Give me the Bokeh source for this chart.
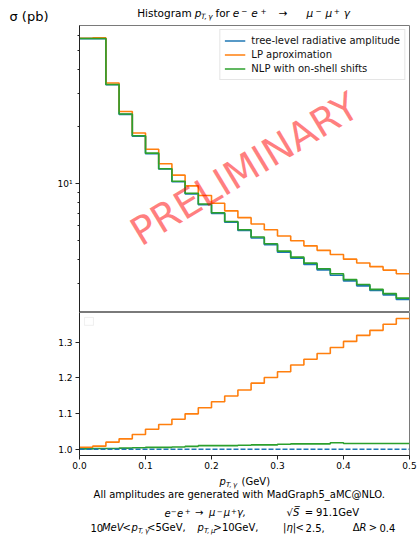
from bokeh.plotting import figure
from bokeh.layouts import column
from bokeh.models import (Range1d, FixedTicker, PrintfTickFormatter,
                          CustomJSTickFormatter, Label, BoxAnnotation)
from bokeh.core.properties import value
from bokeh.embed import file_html
from bokeh.resources import INLINE

# ---------------- data ----------------
bin_edges = [round(0.02 * i, 2) for i in range(26)]          # 25 bins of 0.02 GeV
tree_level = [58.1, 58.1, 33.2, 23.2, 17.8, 14.4, 11.95, 10.24, 8.85, 7.75,
              6.97, 6.27, 5.67, 5.18, 4.77, 4.36, 4.05, 3.76, 3.52, 3.30,
              3.08, 2.90, 2.74, 2.60, 2.46]
lp_approx = [58.4, 58.6, 33.9, 24.0, 18.5, 15.2, 12.75, 11.1, 9.75, 8.68,
             7.90, 7.20, 6.63, 6.14, 5.73, 5.31, 5.01, 4.71, 4.46, 4.24,
             4.01, 3.83, 3.66, 3.51, 3.36]
nlp_shift = [58.2, 58.2, 33.3, 23.3, 17.9, 14.5, 12.0, 10.3, 8.92, 7.83,
             7.04, 6.33, 5.73, 5.24, 4.83, 4.42, 4.11, 3.82, 3.57, 3.36,
             3.13, 2.95, 2.78, 2.64, 2.50]
ratio_tree = [1.0] * 25
ratio_lp = [1.0056, 1.0085, 1.0197, 1.029, 1.041, 1.056, 1.069, 1.084, 1.099,
            1.116, 1.133, 1.149, 1.166, 1.185, 1.201, 1.217, 1.236, 1.252,
            1.268, 1.285, 1.302, 1.319, 1.333, 1.350, 1.366]
ratio_nlp = [1.001, 1.002, 1.002, 1.003, 1.004, 1.005, 1.005, 1.006, 1.008,
             1.010, 1.010, 1.010, 1.011, 1.012, 1.012, 1.014, 1.015, 1.015,
             1.015, 1.018, 1.016, 1.016, 1.016, 1.016, 1.016]
series_labels = ["tree-level radiative amplitude", "LP aproximation",
                 "NLP with on-shell shifts"]
x_ticks = [0.0, 0.1, 0.2, 0.3, 0.4, 0.5]
ratio_ticks = [1.0, 1.1, 1.2, 1.3]
log_major = [10]
log_minor = [3, 4, 5, 6, 7, 8, 9, 20, 30, 40, 50, 60]

BLUE, ORANGE, GREEN = "#1f77b4", "#ff7f0e", "#2ca02c"
FONT = "DejaVu Sans"
W = 418
LEFT = 79
FRAME_W = 330
RIGHT = W - LEFT - FRAME_W
HEAD_H = 25
TOP_FRAME = 287
BOT_FRAME = 143
BOT_H = BOT_FRAME + 18
FOOT_TOP = HEAD_H + TOP_FRAME + BOT_H
FOOT_H = 535 - FOOT_TOP
FRAME_COLOR = "#7a7a7a"
AXIS_COLOR = "#222222"


def stepped(vals):
    return list(vals) + [vals[-1]]


def text_fig(top_px, height):
    """A bare figure whose frame maps 1:1 onto page pixels."""
    f = figure(width=W, height=height, x_range=Range1d(LEFT, LEFT + FRAME_W),
               y_range=Range1d(top_px + height, top_px),
               x_axis_location=None, y_axis_location=None,
               toolbar_location=None, output_backend="svg",
               min_border_left=LEFT, min_border_right=RIGHT,
               min_border_top=0, min_border_bottom=0,
               outline_line_color=None)
    f.xgrid.visible = False
    f.ygrid.visible = False
    return f


def put(fig, pieces):
    """pieces: (text, left x, baseline y, size px, style[, align])."""
    for piece in pieces:
        txt, px, py, size, style = piece[:5]
        align = piece[5] if len(piece) > 5 else "left"
        fig.text(x=[px], y=[py - 0.35 * size], text=[txt],
                 text_font=value(FONT), text_font_size=value(f"{size}px"),
                 text_font_style=style, text_align=align,
                 text_baseline="middle", text_color="black")


def style_axis(ax, size="9px"):
    ax.axis_line_color = AXIS_COLOR
    ax.major_tick_line_color = AXIS_COLOR
    ax.minor_tick_line_color = AXIS_COLOR
    ax.major_tick_out = 4
    ax.major_tick_in = 0
    ax.minor_tick_out = 2
    ax.minor_tick_in = 0
    ax.major_label_text_font = FONT
    ax.major_label_text_font_size = size
    ax.major_label_text_color = "black"


# ---------------- header: title + y label ----------------
header = figure(width=W, height=HEAD_H, x_range=Range1d(LEFT, LEFT + FRAME_W),
                y_range=Range1d(HEAD_H, 0), x_axis_location=None,
                toolbar_location=None, output_backend="svg",
                min_border_left=LEFT, min_border_right=RIGHT,
                min_border_top=0, min_border_bottom=0,
                outline_line_color=None)
header.xgrid.visible = False
header.ygrid.visible = False
hy = header.yaxis[0]
hy.ticker = FixedTicker(ticks=[16])
hy.formatter = CustomJSTickFormatter(code="return 'σ (pb)';")
hy.axis_line_color = None
hy.major_tick_line_color = None
hy.minor_tick_line_color = None
hy.major_tick_out = 0
hy.major_tick_in = 0
hy.major_label_standoff = 31
hy.major_label_text_font = FONT
hy.major_label_text_font_size = "13px"
hy.major_label_text_color = "black"

tb = 16.3
sup = tb - 2.8
sub = tb + 2.2
put(header, [
    ("Histogram", 136.7, tb, 10.5, "normal"),
    ("p", 194.3, tb, 10.5, "italic"),
    ("T,\u2009γ", 200.5, sub, 7.3, "italic"),
    ("for", 215.0, tb, 10.5, "normal"),
    ("e", 232.3, tb, 10.5, "italic"),
    ("−", 240.7, sup, 7.3, "normal"),
    ("e", 250.7, tb, 10.5, "italic"),
    ("+", 260.0, sup, 7.3, "normal"),
    ("→", 278.3, tb, 10.5, "normal"),
    ("μ", 306.0, tb, 10.5, "italic"),
    ("−", 315.0, sup, 7.3, "normal"),
    ("μ", 325.0, tb, 10.5, "italic"),
    ("+", 333.3, sup, 7.3, "normal"),
    ("γ", 343.3, tb, 10.5, "italic"),
])

# ---------------- main (log) panel ----------------
top = figure(width=W, height=TOP_FRAME, x_range=Range1d(0, 0.5),
             y_range=Range1d(2.10, 68.1), y_axis_type="log",
             x_axis_location=None, toolbar_location=None,
             output_backend="svg", min_border_left=LEFT,
             min_border_right=RIGHT, min_border_top=0, min_border_bottom=0)
top.xgrid.visible = False
top.ygrid.visible = False
top.outline_line_color = FRAME_COLOR
top.yaxis.ticker = FixedTicker(ticks=log_major, minor_ticks=log_minor)
top.yaxis.formatter = CustomJSTickFormatter(code="return '10\u00b9';")
style_axis(top.yaxis[0])
top.yaxis.major_label_standoff = 3

for vals, col, lab in zip([tree_level, lp_approx, nlp_shift],
                          [BLUE, ORANGE, GREEN], series_labels):
    top.step(bin_edges, stepped(vals), mode="after", line_color=col,
             line_width=1.6, legend_label=lab)

lg = top.legend[0]
lg.location = "top_right"
lg.margin = 4
lg.padding = 4
lg.spacing = 1
lg.label_height = 13
lg.glyph_height = 13
lg.glyph_width = 21
lg.label_standoff = 6
lg.label_text_font = FONT
lg.label_text_font_size = "10px"
lg.label_text_color = "#111111"
lg.border_line_color = "#cccccc"
lg.border_line_width = 1
lg.background_fill_alpha = 0.8

top.add_layout(Label(x=0.25, y=11.96, text="PRELIMINARY", angle=31,
                     angle_units="deg", text_font=FONT,
                     text_font_size="39px", text_color="red",
                     text_alpha=0.5, text_align="center",
                     text_baseline="middle"))

# ---------------- ratio panel ----------------
bot = figure(width=W, height=BOT_H, x_range=top.x_range,
             y_range=Range1d(0.9823, 1.383), toolbar_location=None,
             output_backend="svg", min_border_left=LEFT,
             min_border_right=RIGHT, min_border_top=0,
             min_border_bottom=BOT_H - BOT_FRAME)
bot.xgrid.visible = False
bot.ygrid.visible = False
bot.outline_line_color = FRAME_COLOR
bot.xaxis.ticker = FixedTicker(ticks=x_ticks)
bot.yaxis.ticker = FixedTicker(ticks=ratio_ticks)
bot.xaxis.formatter = PrintfTickFormatter(format="%.1f")
bot.yaxis.formatter = PrintfTickFormatter(format="%.1f")
style_axis(bot.xaxis[0])
style_axis(bot.yaxis[0])
bot.xaxis.major_label_standoff = 2
bot.yaxis.major_label_standoff = 3
bot.xaxis.minor_tick_line_color = None
bot.yaxis.minor_tick_line_color = None

bot.step(bin_edges, stepped(ratio_lp), mode="after", line_color=ORANGE,
         line_width=1.6)
bot.step(bin_edges, stepped(ratio_nlp), mode="after", line_color=GREEN,
         line_width=1.6)
bot.step(bin_edges, stepped(ratio_tree), mode="after", line_color=BLUE,
         line_width=1.6, line_dash="5 2")

# empty legend box of the ratio panel
bot.add_layout(BoxAnnotation(left=0.0076, right=0.0212, bottom=1.347,
                             top=1.369, fill_color="white", fill_alpha=1,
                             line_color="#cccccc", line_width=1))

# ---------------- footer: x label + notes ----------------
footer = text_fig(FOOT_TOP, FOOT_H)
xb = 484.3
b1 = 497.5
b2 = 515.5
b3 = 530.5
put(footer, [
    ("p", 219.0, xb, 10, "italic"),
    ("T,\u2009γ", 225.5, xb + 2.2, 7, "italic"),
    ("(GeV)", 241.0, xb, 10, "normal"),
    ("All amplitudes are generated with MadGraph5_aMC@NLO.", 238.7, b1, 10,
     "normal", "center"),
    ("e", 164.0, b2, 10, "italic"),
    ("−", 170.3, b2 - 2.7, 7, "normal"),
    ("e", 176.5, b2, 10, "italic"),
    ("+", 184.2, b2 - 2.7, 7, "normal"),
    ("→", 194.6, b2, 10, "normal"),
    ("μ", 208.5, b2, 10, "italic"),
    ("−", 216.2, b2 - 2.7, 7, "normal"),
    ("μ", 223.2, b2, 10, "italic"),
    ("+", 230.5, b2 - 2.7, 7, "normal"),
    ("γ,", 236.4, b2, 10, "italic"),
    ("√", 286.1, b2, 10, "normal"),
    ("S\u0305", 292.6, b2, 10, "italic"),
    ("=", 304.2, b2, 10, "normal"),
    ("91.1GeV", 315.5, b2, 10, "normal"),
    ("10", 90.0, b3, 10, "normal"),
    ("MeV", 101.4, b3, 10, "italic"),
    ("<", 122.1, b3, 10, "normal"),
    ("p", 131.0, b3, 10, "italic"),
    ("T,\u2009γ", 137.4, b3 + 2.2, 7, "italic"),
    ("<", 146.6, b3, 10, "normal"),
    ("5GeV,", 154.9, b3, 10, "normal"),
    ("p", 197.0, b3, 10, "italic"),
    ("T,\u2009μ", 203.4, b3 + 2.2, 7, "italic"),
    (">", 213.0, b3, 10, "normal"),
    ("10GeV,", 221.4, b3, 10, "normal"),
    ("|η|", 282.6, b3, 10, "italic"),
    ("<", 295.1, b3, 10, "normal"),
    ("2.5,", 305.1, b3, 10, "normal"),
    ("Δ", 352.2, b3, 10, "normal"),
    ("R", 359.0, b3, 10, "italic"),
    (">", 368.2, b3, 10, "normal"),
    ("0.4", 378.9, b3, 10, "normal"),
])

layout = column(header, top, bot, footer, spacing=0)
open("out.html", "w").write(file_html(layout, INLINE))
